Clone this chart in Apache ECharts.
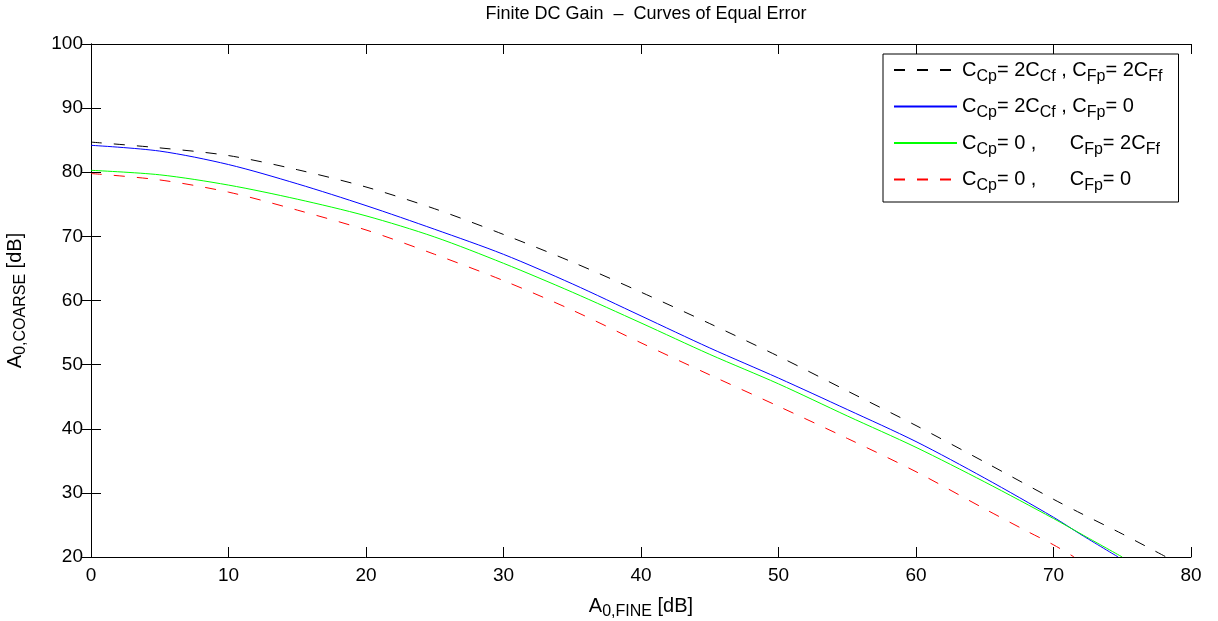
<!DOCTYPE html>
<html>
<head>
<meta charset="utf-8">
<script src="https://cdn.jsdelivr.net/npm/echarts@6/dist/echarts.min.js"></script>
<style>
  html, body { margin: 0; padding: 0; background: #fff; }
  #main { width: 1218px; height: 621px; }
</style>
</head>
<body>
<div id="main"></div>
<script>
var chartDom = document.getElementById('main');
var myChart = echarts.init(chartDom);
var option;

// A0,FINE [dB] sample points for each curve
var xFineA = [0, 5, 10, 15, 20, 25, 30, 35, 40, 45, 50, 55, 60, 65, 70, 72, 75, 78.2];
var xFineB = [0, 5, 10, 15, 20, 25, 30, 35, 40, 45, 50, 55, 60, 65, 70, 72, 74.7];
var xFineC = [0, 5, 10, 15, 20, 25, 30, 35, 40, 45, 50, 55, 60, 65, 70, 72, 75];
var xFineD = [0, 5, 10, 15, 20, 25, 30, 35, 40, 45, 50, 55, 60, 65, 68, 70, 71.5];

// A0,COARSE [dB]
var coarseBothPar = [84.7, 83.8, 82.6, 80.4, 77.7, 74.3, 70.3, 66.0, 61.3, 56.4, 51.3, 45.9, 40.5, 34.8, 29.0, 26.8, 23.6, 20];
var coarseCpOnly = [84.2, 83.3, 81.2, 78.2, 74.8, 71.1, 67.2, 62.6, 57.6, 52.6, 47.9, 43.0, 38.0, 32.3, 26.2, 23.5, 20];
var coarseFpOnly = [80.3, 79.6, 78.0, 75.8, 73.2, 69.9, 65.8, 61.3, 56.5, 51.6, 47.0, 42.0, 37.1, 31.7, 26.0, 23.6, 20];
var coarseNoPar = [79.8, 78.8, 76.9, 74.1, 71.0, 67.2, 63.1, 58.5, 53.4, 48.4, 43.5, 38.5, 33.3, 27.5, 24.1, 21.9, 20];

var legendNames = ['s1', 's2', 's3', 's4'];
var legendTexts = {
  s1: '{m|C}{s|Cp}{m|= 2C}{s|Cf}{m| , C}{s|Fp}{m|= 2C}{s|Ff}',
  s2: '{m|C}{s|Cp}{m|= 2C}{s|Cf}{m| , C}{s|Fp}{m|= 0}',
  s3: '{m|C}{s|Cp}{m|= 0 ,      C}{s|Fp}{m|= 2C}{s|Ff}',
  s4: '{m|C}{s|Cp}{m|= 0 ,      C}{s|Fp}{m|= 0}'
};

function pairs(xs, ys) {
  return xs.map(function (x, i) { return [x, ys[i]]; });
}

var FONT = 'Liberation Sans, Arial, Helvetica, sans-serif';

var richLegend = {
  m: { fontSize: 20, fontFamily: FONT, color: '#000', lineHeight: 26 },
  s: { fontSize: 16, fontFamily: FONT, color: '#000', padding: [13, 0, 0, 0] }
};
var richAxis = {
  m: { fontSize: 20, fontFamily: FONT, color: '#000', lineHeight: 24 },
  s: { fontSize: 16, fontFamily: FONT, color: '#000', padding: [12, 0, 0, 0] }
};

function lineSeries(name, data, color, dash) {
  return {
    name: name,
    type: 'line',
    data: data,
    symbol: 'none',
    smooth: 0.3,
    clip: true,
    lineStyle: { color: color, width: 1, type: dash },
    itemStyle: { color: color },
    emphasis: { disabled: true }
  };
}

var tickStyle = { inside: true, length: 10, lineStyle: { color: '#000', width: 1 } };

option = {
  backgroundColor: '#fff',
  animation: false,
  title: {
    text: 'Finite DC Gain  \u2013  Curves of Equal Error',
    left: 641,
    textAlign: 'center',
    top: 0,
    textStyle: { fontSize: 18, fontWeight: 'normal', fontFamily: FONT, color: '#000' }
  },
  grid: { left: 91, right: 27, top: 44, bottom: 64, outerBoundsMode: 'none', containLabel: false },
  legend: {
    data: legendNames,
    orient: 'vertical',
    left: 883,
    top: 54,
    padding: [6, 16, 8, 10],
    itemGap: 12,
    itemWidth: 63,
    itemHeight: 14,
    borderColor: '#000',
    borderWidth: 1,
    borderRadius: 0,
    backgroundColor: '#fff',
    itemStyle: { opacity: 0 },
    formatter: function (name) { return legendTexts[name]; },
    textStyle: { rich: richLegend }
  },
  xAxis: [
    {
      type: 'value',
      min: 0,
      max: 80,
      interval: 10,
      name: '{m|A}{s|0,FINE}{m| [dB]}',
      nameLocation: 'middle',
      nameGap: 35,
      nameTextStyle: { rich: richAxis },
      axisLine: { show: true, lineStyle: { color: '#000', width: 1 } },
      axisTick: tickStyle,
      axisLabel: { fontSize: 19, fontFamily: FONT, color: '#000', margin: 9 },
      splitLine: { show: false }
    },
    {
      type: 'value',
      position: 'top',
      min: 0,
      max: 80,
      interval: 10,
      axisLine: { show: true, lineStyle: { color: '#000', width: 1 } },
      axisTick: tickStyle,
      axisLabel: { show: false },
      splitLine: { show: false }
    }
  ],
  yAxis: [
    {
      type: 'value',
      min: 20,
      max: 100,
      interval: 10,
      name: '{m|A}{s|0,COARSE}{m| [dB]}',
      nameLocation: 'middle',
      nameGap: 62,
      nameTextStyle: { rich: richAxis },
      axisLine: { show: true, lineStyle: { color: '#000', width: 1 } },
      axisTick: tickStyle,
      axisLabel: { fontSize: 19, fontFamily: FONT, color: '#000', margin: 8 },
      splitLine: { show: false }
    },
    {
      type: 'value',
      position: 'right',
      min: 20,
      max: 100,
      interval: 10,
      axisLine: { show: true, lineStyle: { color: '#000', width: 1 } },
      axisTick: tickStyle,
      axisLabel: { show: false },
      splitLine: { show: false }
    }
  ],
  series: [
    lineSeries('s1', pairs(xFineA, coarseBothPar), '#000000', [11, 12]),
    lineSeries('s2', pairs(xFineB, coarseCpOnly), '#0000ff', 'solid'),
    lineSeries('s3', pairs(xFineC, coarseFpOnly), '#00ff00', 'solid'),
    lineSeries('s4', pairs(xFineD, coarseNoPar), '#ff0000', [11, 12])
  ]
};

option && myChart.setOption(option);
</script>
</body>
</html>
